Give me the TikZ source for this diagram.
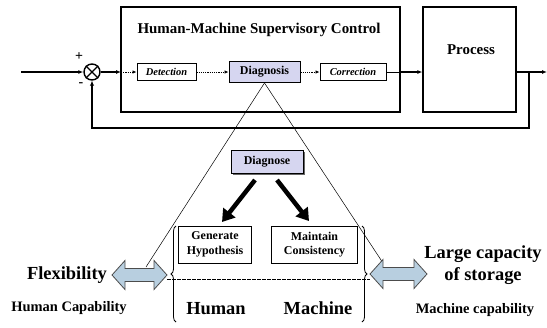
\documentclass[tikz,border=0pt]{standalone}
\usepackage{fontspec}
\setmainfont{Liberation Serif}
\usetikzlibrary{arrows.meta,decorations.pathreplacing,shadows}
\definecolor{lav}{RGB}{214,214,240}
\definecolor{lblue}{RGB}{184,207,224}
\begin{document}
\begin{tikzpicture}[x=1bp,y=-1bp,
  bigbox/.style={draw, line width=1.2bp, inner sep=0pt},
  smallbox/.style={draw, line width=0.9bp, inner sep=0pt, fill=white},
  lavbox/.style={draw, line width=0.9bp, inner sep=0pt, fill=lav},
  sig/.style={line width=1.8bp, -{Latex[length=5bp,width=4bp]}},
  fbsig/.style={line width=2.2bp, -{Latex[length=5bp,width=4.5bp]}},
  dotarrow/.style={line width=0.8bp, dash pattern=on 1.2bp off 1bp, -{Latex[length=4bp,width=3.5bp]}},
  thin/.style={line width=0.5bp},
  bigarrow/.style={line width=4.5bp, -{Triangle[length=12bp,width=15bp]}},
  dbl/.style={draw=black!70, line width=0.8bp, fill=lblue},
  brc/.style={decorate, decoration={brace, amplitude=5bp}, line width=0.8bp},
  ftitle/.style={font=\fontsize{15}{18}\selectfont\bfseries},
  fbig/.style={font=\fontsize{18.5}{22}\selectfont\bfseries},
  fmid/.style={font=\fontsize{14.5}{17}\selectfont\bfseries},
  fbox/.style={font=\fontsize{12}{14}\selectfont\bfseries},
  fsmall/.style={font=\fontsize{12}{14.5}\selectfont\bfseries},
  fit/.style={font=\fontsize{10.5}{12}\selectfont\bfseries\itshape}
]
\useasboundingbox (0,0) rectangle (547,327);

% upper loop
\node[bigbox, minimum width=279bp, minimum height=105bp] (hmsc) at (260.5,59.5) {};
\node[bigbox, minimum width=93bp, minimum height=105bp] (proc) at (469.5,59.5) {};
\node[ftitle] (title) at (259,30) {Human-Machine Supervisory Control};
\node[ftitle] (ptext) at (471,50) {Process};

\node[circle, draw, line width=1.4bp, minimum size=16bp, inner sep=0pt] (sum) at (92,72) {};
\draw[line width=1.4bp] (sum.north east) -- (sum.south west) (sum.north west) -- (sum.south east);
\node[font=\fontsize{14}{16}\selectfont\bfseries] (plus) at (79,57) {+};
\node[font=\fontsize{14}{16}\selectfont\bfseries] (minus) at (81,85) {-};

\node[smallbox, minimum width=59bp, minimum height=17bp, fit] (det) at (166.5,72) {Detection};
\node[lavbox, minimum width=71bp, minimum height=21bp, fbox] (diag) at (264.5,72) {Diagnosis};
\node[smallbox, minimum width=66bp, minimum height=17bp, fit] (corr) at (353,72) {Correction};

\coordinate (in) at (21,72);
\coordinate (hin) at (121,72);
\coordinate (hout) at (400,72);
\coordinate (out) at (547,72);
\coordinate (jn) at (529,72);
\coordinate (fb) at (529,128);

\draw[sig] (in) -- (sum.west);
\draw[sig] (sum.east) -- (hin);
\draw[dotarrow] (hin) -- (det.west);
\draw[dotarrow] (det.east) -- (diag.west);
\draw[dotarrow] (diag.east) -- (corr.west);
\draw[line width=0.8bp] (corr.east) -- (hout);
\draw[sig] (hout) -- (proc.west |- hout);
\draw[sig] (proc.east |- out) -- (out);
\draw[fbsig] (jn) -- (fb) -| (sum.south);

% zoom-in triangle
\coordinate (tl) at (146,267);
\coordinate (tr) at (383,263);
\draw[thin] (diag.south) -- (tl);
\draw[thin] (diag.south) -- (tr);

% lower part
\node[lavbox, minimum width=72bp, minimum height=23bp, fbox, drop shadow={shadow xshift=1.5bp, shadow yshift=-1.5bp, fill=black!60, opacity=1}] (dgn) at (267,161.5) {Diagnose};
\node[smallbox, minimum width=73bp, minimum height=37bp, fsmall, align=center] (gh) at (215,244.5) {Generate\\Hypothesis};
\node[smallbox, minimum width=86bp, minimum height=37bp, fsmall, align=center] (mc) at (314.5,244.5) {Maintain\\Consistency};

\coordinate (a1s) at (255,180);
\coordinate (a1e) at (222,222);
\coordinate (a2s) at (277,180);
\coordinate (a2e) at (309,221);
\draw[bigarrow] (a1s) -- (a1e);
\draw[bigarrow] (a2s) -- (a2e);

% braces
\draw[brc] (176,322) -- (176,226);
\draw[brc] (362,226) -- (362,322);

% double arrows
\draw[dbl] (112,275) -- (125,260.5) -- (125,268.5) -- (154,268.5) -- (154,260.5) -- (167,275)
  -- (154,289.5) -- (154,281.5) -- (125,281.5) -- (125,289.5) -- cycle;
\draw[dbl] (370,274) -- (383,259.5) -- (383,267.5) -- (414,267.5) -- (414,259.5) -- (427,274)
  -- (414,288.5) -- (414,280.5) -- (383,280.5) -- (383,288.5) -- cycle;
\coordinate (dl) at (167,279);
\coordinate (dr) at (370,279);
\draw[thin, dash pattern=on 4bp off 1bp] (dl) -- (dr);

% texts
\node[fbig] (flex) at (67,275) {Flexibility};
\node[fmid] (hcap) at (69,308) {Human Capability};
\node[fbig] (hum) at (216,309) {Human};
\node[fbig] (mach) at (318,308) {Machine};
\node[fbig, align=center] (store) at (483,265) {Large capacity\\of storage};
\node[fmid] (mcap) at (475,310) {Machine capability};
\end{tikzpicture}
\end{document}
